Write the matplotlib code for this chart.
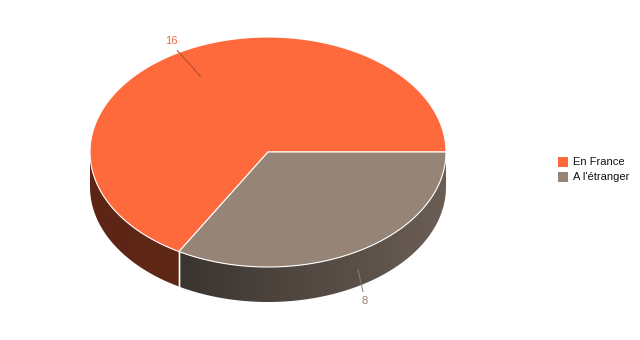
import numpy as np
import matplotlib.pyplot as plt
from matplotlib.patches import Polygon, Rectangle
from matplotlib.colors import to_rgb

plt.rcParams['font.family'] = ['Liberation Sans', 'DejaVu Sans']

# data
labels = ['En France', "A l'étranger"]
values = [16, 8]
top_colors = ['#ff6a3d', '#968476']
side_left = ['#5c2515', '#3a342f']
side_right = ['#5e2716', '#6b5e55']
label_colors = ['#f2693d', '#9a8270']
line_colors = ['#a84a30', '#8c7b6e']

# pie geometry in pixels
cx, cy = 268, 152
rx, ry = 178, 115
depth = 35
start = 120.0

fig = plt.figure(figsize=(6.4, 3.4), dpi=100)
ax = fig.add_axes([0, 0, 1, 1])
ax.axis('off')


def pt(t, dy=0):
    r = np.radians(t)
    return cx + rx * np.cos(r), cy + ry * np.sin(r) + dy


total = sum(values)
angles = [start]
for v in values:
    angles.append(angles[-1] + 360.0 * v / total)

# side walls (front half only: 0..180 deg), filled with a horizontal gradient
for i in range(len(values)):
    a0, a1 = angles[i], angles[i + 1]
    for off in (0, 360, -360):
        s0, s1 = max(a0 - off, 0), min(a1 - off, 180)
        if s1 <= s0:
            continue
        ts = np.linspace(s0, s1, 120)
        top = [pt(t) for t in ts]
        bot = [pt(t, depth) for t in ts[::-1]]
        poly = Polygon(top + bot, closed=True, facecolor='none',
                       edgecolor='none', transform=ax.transData)
        ax.add_patch(poly)
        xs = [p[0] for p in top]
        ys = [p[1] for p in top]
        xmin, xmax = min(xs), max(xs)
        cl, cr = np.array(to_rgb(side_left[i])), np.array(to_rgb(side_right[i]))
        f = np.linspace(0, 1, 256)
        grad = (cl[None, :] + (cr - cl)[None, :] * f[:, None])[None, :, :]
        im = ax.imshow(grad, extent=[xmin, xmax, max(ys) + depth + 2, min(ys) - 2],
                       aspect='auto', zorder=1, interpolation='bilinear')
        im.set_clip_path(poly)
        # white seam at slice boundaries on the side
        for t in (s0, s1):
            if 0 < t < 180:
                x0, y0 = pt(t)
                ax.plot([x0, x0], [y0, y0 + depth], color='white', lw=1, zorder=2)

ax.set_xlim(0, 640)
ax.set_ylim(340, 0)

# top faces
for i in range(len(values)):
    ts = np.linspace(angles[i], angles[i + 1], 200)
    p = [(cx, cy)] + [pt(t) for t in ts]
    ax.add_patch(Polygon(p, closed=True, facecolor=top_colors[i],
                         edgecolor='white', linewidth=0.8, zorder=3))

# data labels with leader lines
for i in range(len(values)):
    mid = (angles[i] + angles[i + 1]) / 2 % 360
    if np.sin(np.radians(mid)) > 0:
        x0, y0 = pt(mid)
        ax.plot([x0 + 1, x0 + 6], [y0 + 18, y0 + 40], color=line_colors[i],
                lw=0.7, zorder=4)
        ax.text(x0 + 8, y0 + 49, str(values[i]), color=label_colors[i],
                fontsize=8, ha='center', va='center', zorder=5)
    else:
        r = np.radians(mid)
        xa, ya = cx + 0.76 * rx * np.cos(r), cy + 0.76 * ry * np.sin(r)
        xb, yb = cx + 1.02 * rx * np.cos(r), cy + 1.02 * ry * np.sin(r)
        ax.plot([xa, xb], [ya, yb], color=line_colors[i], lw=0.7, zorder=4)
        ax.text(xb - 6, yb - 9, str(values[i]), color=label_colors[i],
                fontsize=8, ha='center', va='center', zorder=5)

# legend
for i, lab in enumerate(labels):
    y = 157 + i * 15
    ax.add_patch(Rectangle((558, y), 10, 10, facecolor=top_colors[i],
                           edgecolor='none', zorder=5))
    ax.text(573, y + 5, lab, fontsize=8, color='#111111', ha='left',
            va='center', zorder=5)

fig.savefig('out.png', dpi=100, facecolor='white')
